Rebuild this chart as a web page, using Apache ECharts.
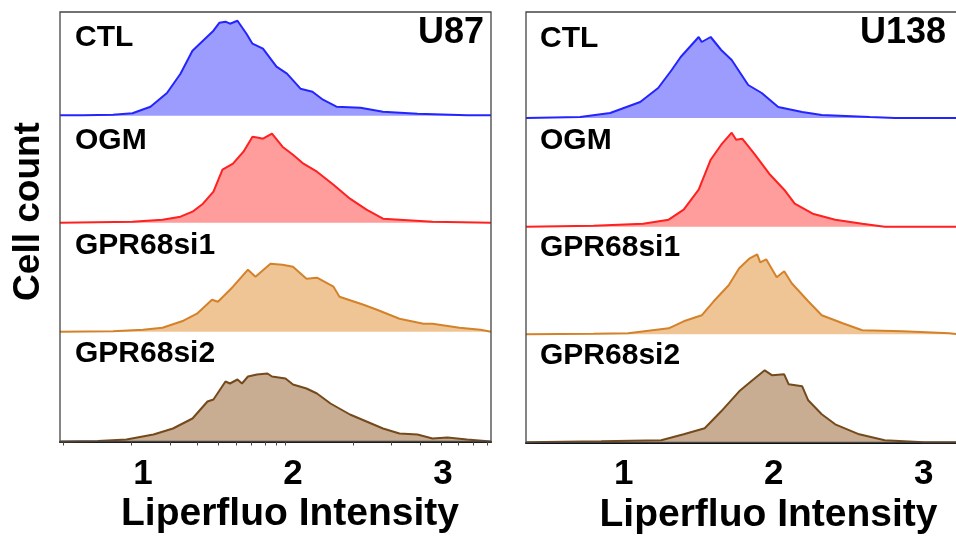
<!DOCTYPE html>
<html>
<head>
<meta charset="utf-8">
<script src="https://cdn.jsdelivr.net/npm/echarts@6.0.0/dist/echarts.min.js"></script>
<style>
  html, body { margin: 0; padding: 0; background: #fff; }
  #main { width: 956px; height: 536px; }
</style>
</head>
<body>
<div id="main"></div>
<script>
// tick labels and the uneven (log-like) minor ticks
var xTicks = [1, 2, 3];
var minorTicks = [0.469, 0.925, 1.18, 1.365, 1.502, 1.625, 1.725, 1.813, 1.891, 1.947,
                  2.402, 2.658, 2.847, 2.991, 3.102, 3.202, 3.293];

var laneNames = ["CTL", "OGM", "GPR68si1", "GPR68si2"];
var cellLines = ["U87", "U138"];

// [intensity, cell count]
var u87Ctl = [[0.447, 0.5], [0.6, 0.5], [0.8, 1], [0.93, 2.4], [1.05, 9], [1.16, 22.7], [1.25, 42],
  [1.33, 65], [1.4, 75], [1.47, 85], [1.51, 93], [1.55, 94], [1.58, 92], [1.63, 95], [1.69, 82],
  [1.73, 72], [1.8, 67], [1.89, 49], [1.96, 42], [2.05, 27], [2.13, 24], [2.2, 16], [2.29, 9],
  [2.45, 8], [2.6, 4], [2.83, 2], [3.16, 0.5], [3.32, 0.5]];
var u87Ogm = [[0.447, 0], [0.93, 1], [1.13, 3], [1.25, 6], [1.33, 11], [1.4, 19], [1.47, 31],
  [1.53, 53], [1.6, 59], [1.67, 71], [1.73, 86], [1.77, 85], [1.8, 84], [1.86, 89], [1.93, 76],
  [2.0, 68], [2.07, 59], [2.16, 51], [2.27, 38], [2.38, 24], [2.49, 13], [2.6, 4], [2.71, 3],
  [2.93, 1], [3.32, 0]];
var u87Si1 = [[0.447, 0], [0.8, 0.5], [1.0, 2], [1.13, 4], [1.27, 11], [1.36, 18], [1.46, 32],
  [1.5, 30], [1.6, 45], [1.7, 62], [1.75, 55], [1.85, 68], [1.93, 67], [2.0, 65], [2.09, 53],
  [2.16, 54], [2.27, 45], [2.31, 35], [2.37, 32], [2.47, 27], [2.56, 22], [2.71, 13], [2.87, 8],
  [2.93, 8], [3.11, 4], [3.25, 2], [3.32, 0]];
var u87Si2 = [[0.447, 0], [0.7, 0.5], [0.89, 2], [1.07, 7], [1.2, 13], [1.33, 23], [1.43, 40],
  [1.47, 42], [1.55, 60], [1.58, 58], [1.63, 62], [1.66, 58], [1.7, 65], [1.76, 67], [1.83, 68],
  [1.86, 65], [1.95, 63], [2.0, 57], [2.09, 53], [2.16, 48], [2.25, 38], [2.38, 27], [2.49, 20],
  [2.6, 13], [2.71, 8], [2.83, 7], [2.93, 3], [3.03, 4], [3.16, 2], [3.32, 0]];

var u138Ctl = [[0.349, 0], [0.71, 1], [0.91, 5], [1.11, 16], [1.23, 30], [1.32, 48], [1.38, 61],
  [1.44, 71], [1.5, 81], [1.52, 76], [1.58, 81], [1.65, 68], [1.72, 58], [1.83, 33], [1.92, 25],
  [2.03, 11], [2.19, 6], [2.32, 3], [2.64, 1], [2.81, 0], [3.235, 0]];
var u138Ogm = [[0.349, 0], [0.8, 1], [1.13, 3], [1.3, 7], [1.4, 17], [1.5, 37], [1.58, 67],
  [1.65, 82], [1.72, 94], [1.75, 87], [1.79, 88], [1.87, 73], [1.97, 53], [2.07, 37], [2.14, 23],
  [2.26, 13], [2.41, 7], [2.59, 3], [2.74, 0], [3.235, 0]];
var u138Si1 = [[0.349, 0], [0.8, 0.5], [1.03, 1], [1.3, 6], [1.4, 13], [1.52, 19], [1.6, 33],
  [1.7, 49], [1.77, 66], [1.84, 76], [1.89, 80], [1.91, 72], [1.95, 75], [2.02, 57], [2.07, 63],
  [2.12, 51], [2.23, 33], [2.32, 19], [2.46, 11], [2.59, 4], [2.86, 3], [3.17, 1], [3.235, 0]];
var u138Si2 = [[0.349, 0], [0.85, 1], [1.25, 2], [1.4, 8], [1.54, 14], [1.65, 31], [1.77, 51],
  [1.85, 61], [1.94, 72], [1.99, 67], [2.07, 68], [2.1, 58], [2.19, 56], [2.23, 42], [2.32, 28],
  [2.41, 18], [2.57, 8], [2.74, 2], [3.0, 0], [3.235, 0]];

var FONT = "'Liberation Sans', Arial, sans-serif";
var laneColors = [
  { line: "#2424ff", fill: "#9c9cff" },
  { line: "#ff2020", fill: "#ff9c9c" },
  { line: "#d4822a", fill: "#f0c596" },
  { line: "#744a1c", fill: "#c9ad92" }
];

var panels = [
  { data: [u87Ctl, u87Ogm, u87Si1, u87Si2], min: 0.447, max: 3.32, left: 60, right: 465,
    baselines: [115.7, 222.7, 331.7, 441.5], ticks: true, nameShift: 29,
    labelX: 75, labelY: [37.7, 140.7, 245.7, 353.7], titleX: 484 },
  { data: [u138Ctl, u138Ogm, u138Si1, u138Si2], min: 0.349, max: 3.235, left: 526, right: -3,
    baselines: [118, 226.7, 334.3, 442.3], ticks: false, nameShift: 52,
    labelX: 540, labelY: [38.7, 140.7, 247.7, 355.7], titleX: 946 }
];

var grid = [], xAxis = [], yAxis = [], series = [], graphic = [];
var TOP = 12;

panels.forEach(function (P, p) {
  var prev = TOP;
  P.baselines.forEach(function (base, i) {
    var gi = grid.length;
    var h = base - prev;
    grid.push({ left: P.left, right: P.right, top: prev, height: h, outerBoundsMode: "none" });
    var last = i === 3;
    xAxis.push({
      gridIndex: gi, type: "value", min: P.min, max: P.max, show: last,
      splitLine: { show: false },
      axisLine: { show: true, lineStyle: { color: "#111", width: 2 } },
      axisTick: { show: P.ticks, customValues: minorTicks, length: 4, lineStyle: { color: "#444", width: 1 } },
      axisLabel: { customValues: xTicks, fontSize: 35, fontWeight: "bold", fontFamily: FONT, color: "#000", margin: 15 },
      name: last ? "Liperfluo Intensity" : "",
      nameLocation: "middle", nameGap: 53,
      nameTextStyle: { fontSize: 39, fontWeight: "bold", fontFamily: FONT, color: "#000", padding: [0, 0, 0, P.nameShift] }
    });
    yAxis.push({ gridIndex: gi, type: "value", min: 0, max: h, show: false });
    series.push({
      name: cellLines[p] + " " + laneNames[i],
      type: "line", xAxisIndex: gi, yAxisIndex: gi, data: P.data[i],
      symbol: "none", clip: false, silent: true,
      lineStyle: { color: laneColors[i].line, width: 2 },
      areaStyle: { color: laneColors[i].fill, opacity: 1 }
    });
    graphic.push({
      type: "text", x: P.labelX, y: P.labelY[i],
      style: { text: laneNames[i], fontSize: 30, fontWeight: "bold", fontFamily: FONT, fill: "#000",
               textAlign: "left", textVerticalAlign: "middle", align: "left", verticalAlign: "middle" }
    });
    prev = base;
  });
  // outer frame of the panel
  var fi = grid.length;
  grid.push({ left: P.left, right: P.right, top: TOP, height: P.baselines[3] - TOP, show: true,
              borderColor: "#444", borderWidth: 1.3, backgroundColor: "transparent", outerBoundsMode: "none", z: 5 });
  xAxis.push({ gridIndex: fi, type: "value", min: P.min, max: P.max, show: false });
  yAxis.push({ gridIndex: fi, type: "value", show: false });
  graphic.push({
    type: "text", x: P.titleX, y: 33,
    style: { text: cellLines[p], fontSize: 36, fontWeight: "bold", fontFamily: FONT, fill: "#000",
             textAlign: "right", textVerticalAlign: "middle", align: "right", verticalAlign: "middle" }
  });
});

graphic.push({
  type: "text", x: 28.5, y: 211.5, rotation: Math.PI / 2,
  style: { text: "Cell count", fontSize: 37, fontWeight: "bold", fontFamily: FONT, fill: "#000",
           textAlign: "center", textVerticalAlign: "middle", align: "center", verticalAlign: "middle" }
});

var chart = echarts.init(document.getElementById("main"), null, { renderer: "canvas" });
chart.setOption({
  backgroundColor: "#fff",
  animation: false,
  grid: grid,
  xAxis: xAxis,
  yAxis: yAxis,
  series: series,
  graphic: graphic
});
</script>
</body>
</html>
